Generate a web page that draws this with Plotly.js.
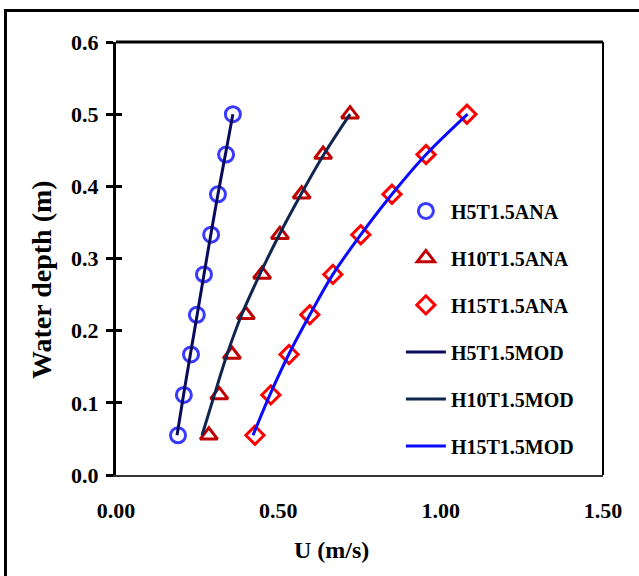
<!DOCTYPE html>
<html><head><meta charset="utf-8">
<script src="https://cdn.plot.ly/plotly-3.0.1.min.js"></script>
<style>
html,body{margin:0;padding:0;background:#fff;}
#wrap{position:relative;width:639px;height:576px;overflow:hidden;}
#chart{width:639px;height:576px;}
#frame{position:absolute;left:4px;top:9px;width:700px;height:600px;border:3px solid #000;pointer-events:none;}
</style></head>
<body><div id="wrap"><div id="chart"></div><div id="frame"></div></div>
<script>
const depth = [0.055, 0.111, 0.167, 0.222, 0.278, 0.333, 0.389, 0.444, 0.500];
const h5ana  = [0.191, 0.209, 0.231, 0.249, 0.271, 0.293, 0.314, 0.339, 0.360];
const h10ana = [0.286, 0.318, 0.357, 0.400, 0.450, 0.505, 0.572, 0.638, 0.721];
const h15ana = [0.428, 0.477, 0.533, 0.597, 0.668, 0.754, 0.850, 0.955, 1.081];
const h5mod  = [0.188, 0.208, 0.229, 0.250, 0.271, 0.292, 0.314, 0.337, 0.360];
const h10mod = [0.265, 0.303, 0.342, 0.387, 0.443, 0.503, 0.570, 0.640, 0.721];
const h15mod = [0.422, 0.474, 0.532, 0.597, 0.668, 0.754, 0.850, 0.955, 1.083];
const names = ['H5T1.5ANA','H10T1.5ANA','H15T1.5ANA','H5T1.5MOD','H10T1.5MOD','H15T1.5MOD'];
const xTicks = [0, 0.5, 1.0, 1.5];
const yTicks = [0, 0.1, 0.2, 0.3, 0.4, 0.5, 0.6];
const xTitle = 'U (m/s)';
const yTitle = 'Water depth (m)';

const F = 'Liberation Serif, Times New Roman, serif';
function mk(x, sym, sz, col, i){
  return {x:x, y:depth, mode:'markers', type:'scatter', name:names[i], legendgroup:'g'+i,
    marker:{symbol:sym, size:sz, color:col, line:{width:3, color:col}}};
}
function ln(x, col, i){
  return {x:x, y:depth, mode:'lines', type:'scatter', name:names[i], legendgroup:'g'+i,
    line:{color:col, width:3, shape:'spline'}};
}
const data = [
  mk(h5ana,'circle-open',15,'#3a3aff',0),
  mk(h10ana,'triangle-up-open',15,'#c00000',1),
  mk(h15ana,'diamond-open',14,'#ff0000',2),
  ln(h5mod,'#0a0a5c',3),
  ln(h10mod,'#10254f',4),
  ln(h15mod,'#0a0aff',5),
  {x:[0], y:[0], yaxis:'y2', mode:'markers', marker:{opacity:0}, showlegend:false, hoverinfo:'skip'}
];
const layout = {
  width:639, height:576,
  margin:{l:116, r:36, t:42, b:101},
  paper_bgcolor:'#fff', plot_bgcolor:'#fff',
  showlegend:true,
  legend:{x:0.585, y:0.655, xanchor:'left', yanchor:'top', bgcolor:'rgba(0,0,0,0)',
    font:{family:F, size:20, color:'#000', weight:'bold'}, tracegroupgap:18, itemwidth:40},
  xaxis:{range:[0,1.5], tickvals:xTicks, tickformat:'.2f', showgrid:false, zeroline:false,
    showline:true, linecolor:'#333', linewidth:2, mirror:false, ticks:'',
    ticklabelstandoff:15,
    tickfont:{family:F, size:22, color:'#000', weight:'bold'}},
  yaxis:{range:[0,0.6], tickvals:yTicks, tickformat:'.1f', showgrid:false, zeroline:false,
    showline:true, linecolor:'#000', linewidth:3, mirror:false, ticks:'outside', ticklen:7, tickwidth:3, tickcolor:'#000',
    ticklabelstandoff:3,
    tickfont:{family:F, size:22, color:'#000', weight:'bold'}},
  yaxis2:{range:[0,0.6], overlaying:'y', side:'left', tickvals:yTicks, showticklabels:false, showgrid:false,
    zeroline:false, ticks:'inside', ticklen:6, tickwidth:3, tickcolor:'#000', showline:false},
  annotations:[
    {text:'<b>'+xTitle+'</b>', xref:'paper', yref:'paper', x:0.4435, y:-0.173, showarrow:false,
      xanchor:'center', yanchor:'middle', font:{family:F, size:24, color:'#000'}},
    {text:'<b>'+yTitle+'</b>', xref:'paper', yref:'paper', x:-0.152, y:0.4527, showarrow:false, textangle:-90,
      xanchor:'center', yanchor:'middle', font:{family:F, size:28, color:'#000'}}
  ],
  shapes:[
    {type:'line', xref:'paper', yref:'paper', x0:0, x1:1, y0:1, y1:1, line:{color:'#000', width:3}},
    {type:'line', xref:'paper', yref:'paper', x0:1, x1:1, y0:0, y1:1, line:{color:'#000', width:2}}
  ]
};
Plotly.newPlot('chart', data, layout, {displayModeBar:false, staticPlot:true});
</script></body></html>
